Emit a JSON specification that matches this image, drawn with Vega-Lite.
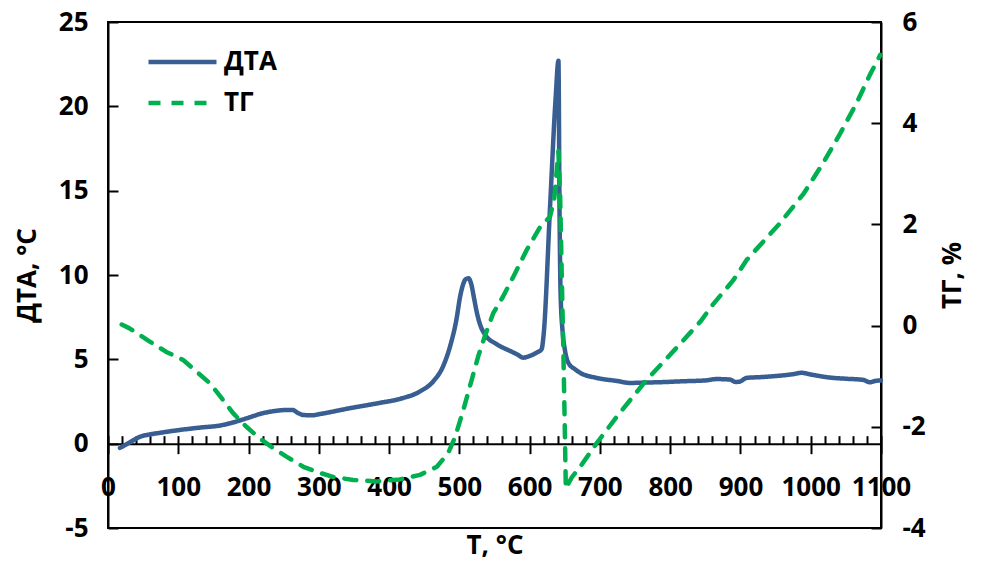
{
  "$schema": "https://vega.github.io/schema/vega-lite/v6.json",
  "width": 773,
  "height": 506,
  "autosize": "none",
  "padding": {"left": 108, "top": 22, "right": 102, "bottom": 34},
  "background": "white",
  "view": {"stroke": "black", "strokeWidth": 2},
  "config": {
    "font": "Open Sans",
    "axis": {
      "grid": false,
      "domainColor": "black",
      "domainWidth": 2,
      "tickColor": "black",
      "tickWidth": 2,
      "labelFont": "Open Sans",
      "labelFontSize": 26,
      "labelFontWeight": "bold",
      "labelColor": "black",
      "labelOverlap": false,
      "labelFlush": false,
      "labelBound": false,
      "labelExpr": "'' + datum.value",
      "titleFont": "Open Sans",
      "titleFontSize": 26,
      "titleFontWeight": "bold",
      "titleColor": "black"
    },
    "legend": {
      "labelFont": "Open Sans",
      "labelFontSize": 26,
      "labelFontWeight": "bold",
      "labelColor": "black"
    }
  },
  "datasets": {
    "dta": [
      {"T": 17, "v": -0.25}, {"T": 30, "v": 0.05}, {"T": 45, "v": 0.4}, {"T": 60, "v": 0.55},
      {"T": 75, "v": 0.65}, {"T": 100, "v": 0.8}, {"T": 130, "v": 0.95}, {"T": 160, "v": 1.08},
      {"T": 180, "v": 1.28}, {"T": 197, "v": 1.5}, {"T": 220, "v": 1.8}, {"T": 240, "v": 1.95},
      {"T": 255, "v": 2.0}, {"T": 263, "v": 2.0}, {"T": 269, "v": 1.85}, {"T": 278, "v": 1.7},
      {"T": 290, "v": 1.68}, {"T": 302, "v": 1.76}, {"T": 344, "v": 2.1}, {"T": 387, "v": 2.42},
      {"T": 416, "v": 2.66}, {"T": 444, "v": 3.1}, {"T": 463, "v": 3.7}, {"T": 477, "v": 4.6},
      {"T": 487, "v": 5.8}, {"T": 496, "v": 7.4}, {"T": 501, "v": 8.7}, {"T": 505, "v": 9.4},
      {"T": 509, "v": 9.75}, {"T": 513, "v": 9.8}, {"T": 517, "v": 9.45}, {"T": 521, "v": 8.6},
      {"T": 525, "v": 7.75}, {"T": 530, "v": 7.0}, {"T": 536, "v": 6.5},
      {"T": 553, "v": 5.9}, {"T": 572, "v": 5.5}, {"T": 582, "v": 5.3}, {"T": 591, "v": 5.1},
      {"T": 600, "v": 5.2}, {"T": 610, "v": 5.4}, {"T": 617, "v": 5.6}, {"T": 620, "v": 6.5},
      {"T": 629, "v": 14.0}, {"T": 637, "v": 20.5}, {"T": 641, "v": 22.7}, {"T": 642.5, "v": 14.0},
      {"T": 644, "v": 9.0}, {"T": 647, "v": 6.6}, {"T": 650, "v": 5.6}, {"T": 655, "v": 4.8},
      {"T": 665, "v": 4.4}, {"T": 672, "v": 4.2}, {"T": 695, "v": 3.9}, {"T": 724, "v": 3.72},
      {"T": 743, "v": 3.6}, {"T": 761, "v": 3.62}, {"T": 790, "v": 3.65}, {"T": 818, "v": 3.7},
      {"T": 850, "v": 3.75}, {"T": 866, "v": 3.83}, {"T": 885, "v": 3.8}, {"T": 893, "v": 3.66},
      {"T": 898, "v": 3.67}, {"T": 909, "v": 3.9}, {"T": 930, "v": 3.95}, {"T": 956, "v": 4.03},
      {"T": 975, "v": 4.12}, {"T": 987, "v": 4.2}, {"T": 1000, "v": 4.1}, {"T": 1027, "v": 3.92},
      {"T": 1050, "v": 3.85}, {"T": 1075, "v": 3.78}, {"T": 1084, "v": 3.64}, {"T": 1092, "v": 3.72},
      {"T": 1100, "v": 3.75}
    ],
    "tg": [
      {"T": 19.5, "v": 0.02}, {"T": 30, "v": -0.05}, {"T": 41, "v": -0.15}, {"T": 60, "v": -0.32},
      {"T": 83, "v": -0.52}, {"T": 107, "v": -0.68}, {"T": 126, "v": -0.91}, {"T": 145, "v": -1.14},
      {"T": 162, "v": -1.44}, {"T": 178, "v": -1.73}, {"T": 197, "v": -2.0}, {"T": 216, "v": -2.23},
      {"T": 235, "v": -2.42}, {"T": 254, "v": -2.59}, {"T": 278, "v": -2.79}, {"T": 297, "v": -2.89},
      {"T": 320, "v": -2.99}, {"T": 349, "v": -3.05}, {"T": 382, "v": -3.08}, {"T": 415, "v": -3.04},
      {"T": 444, "v": -2.95}, {"T": 468, "v": -2.79}, {"T": 484, "v": -2.52}, {"T": 494, "v": -2.2},
      {"T": 505, "v": -1.7}, {"T": 518, "v": -1.05}, {"T": 527, "v": -0.6}, {"T": 536, "v": -0.22},
      {"T": 548, "v": 0.24}, {"T": 562, "v": 0.57}, {"T": 577, "v": 0.97}, {"T": 596, "v": 1.5},
      {"T": 615, "v": 1.95}, {"T": 629, "v": 2.15}, {"T": 635, "v": 2.5}, {"T": 641, "v": 3.45},
      {"T": 643.5, "v": 2.5}, {"T": 646, "v": 0.8}, {"T": 648, "v": -0.5}, {"T": 650, "v": -2.0},
      {"T": 651.5, "v": -3.22}, {"T": 660, "v": -3.0}, {"T": 672, "v": -2.79}, {"T": 695, "v": -2.33},
      {"T": 728, "v": -1.73}, {"T": 766, "v": -1.08}, {"T": 805, "v": -0.5}, {"T": 843, "v": 0.08},
      {"T": 861, "v": 0.42}, {"T": 890, "v": 0.9}, {"T": 909, "v": 1.3}, {"T": 956, "v": 2.02},
      {"T": 990, "v": 2.61}, {"T": 1018, "v": 3.22}, {"T": 1042, "v": 3.8}, {"T": 1065, "v": 4.39},
      {"T": 1084, "v": 4.95}, {"T": 1099, "v": 5.35}
    ]
  },
  "layer": [
    {
      "data": {"name": "dta"},
      "mark": {"type": "line", "strokeWidth": 4.5, "strokeCap": "round", "strokeJoin": "round", "interpolate": "monotone"},
      "encoding": {
        "x": {
          "field": "T", "type": "quantitative",
          "scale": {"domain": [0, 1100], "nice": false, "zero": false},
          "axis": {
            "orient": "bottom", "offset": -84.33,
            "values": [0, 100, 200, 300, 400, 500, 600, 700, 800, 900, 1000, 1100],
            "tickSize": 10, "labelPadding": 21,
            "title": "T, °C", "titlePadding": 32
          }
        },
        "y": {
          "field": "v", "type": "quantitative",
          "scale": {"domain": [-5, 25], "nice": false, "zero": false},
          "axis": {
            "orient": "left",
            "values": [-5, 0, 5, 10, 15, 20, 25],
            "tickSize": -10, "labelPadding": 30,
            "title": "ДТА, °C", "titlePadding": 18
          }
        },
        "color": {
          "datum": "ДТА",
          "scale": {"domain": ["ДТА", "ТГ"], "range": ["#385E92", "#00B050"]},
          "legend": {
            "title": null, "orient": "none", "legendX": 38, "legendY": 27,
            "symbolType": "stroke", "symbolSize": 4624, "symbolStrokeWidth": 4.5,
            "labelOffset": 5, "clipHeight": 26, "rowPadding": 15, "padding": 0
          }
        },
        "strokeDash": {
          "datum": "ДТА",
          "scale": {"domain": ["ДТА", "ТГ"], "range": [[1, 0], [12, 11]]},
          "legend": {
            "title": null, "orient": "none", "legendX": 38, "legendY": 27,
            "symbolType": "stroke", "symbolSize": 4624, "symbolStrokeWidth": 4.5,
            "labelOffset": 5, "clipHeight": 26, "rowPadding": 15, "padding": 0
          }
        }
      }
    },
    {
      "data": {"name": "tg"},
      "mark": {"type": "line", "strokeWidth": 4.5, "strokeCap": "round", "strokeJoin": "round"},
      "encoding": {
        "x": {
          "field": "T", "type": "quantitative",
          "axis": {
            "orient": "top", "offset": -421.67,
            "values": [0, 20, 40, 60, 80, 100, 120, 140, 160, 180, 200, 220, 240, 260, 280, 300, 320, 340, 360, 380, 400, 420, 440, 460, 480, 500, 520, 540, 560, 580, 600, 620, 640, 660, 680, 700, 720, 740, 760, 780, 800, 820, 840, 860, 880, 900, 920, 940, 960, 980, 1000, 1020, 1040, 1060, 1080, 1100],
            "tickSize": 8, "labels": false, "domain": false, "title": null
          }
        },
        "y": {
          "field": "v", "type": "quantitative",
          "scale": {"domain": [-4, 6], "nice": false, "zero": false},
          "axis": {
            "orient": "right",
            "values": [-4, -2, 0, 2, 4, 6],
            "tickSize": -10, "labelPadding": 31,
            "title": "ТГ, %", "titleAngle": 270, "titlePadding": 40
          }
        },
        "color": {"datum": "ТГ"},
        "strokeDash": {"datum": "ТГ"}
      }
    }
  ],
  "resolve": {"scale": {"y": "independent"}, "axis": {"x": "independent", "y": "independent"}}
}
